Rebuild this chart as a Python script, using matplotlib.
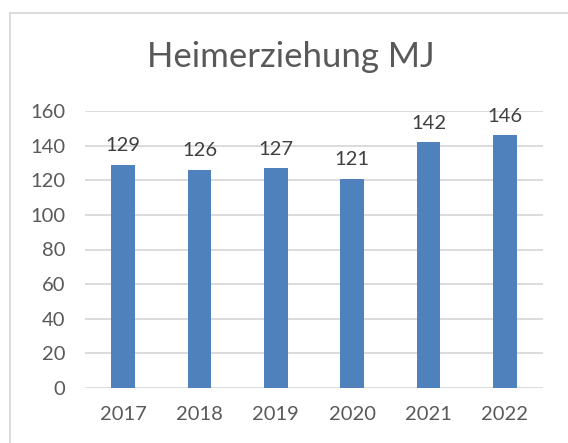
import matplotlib.pyplot as plt
from matplotlib.lines import Line2D

jahre = ['2017', '2018', '2019', '2020', '2021', '2022']
werte = [129, 126, 127, 121, 142, 146]
titel = 'Heimerziehung MJ'

plt.rcParams['font.family'] = ['Lato', 'DejaVu Sans']

fig = plt.figure(figsize=(5.68, 4.43), dpi=100)
ax = fig.add_axes([85/568, 1-388/443, (543-85)/568, (388-111)/443])

x = range(len(jahre))
balken = ax.bar(x, werte, width=0.31, color='#4F81BD', zorder=3)
for xi, w in zip(x, werte):
    ax.text(xi, w + 6, str(w), ha='center', va='bottom', fontsize=14.5, color='#404040')

ax.set_xlim(-0.5, len(jahre) - 0.5)
ax.set_ylim(0, 160)
ax.set_yticks(range(0, 161, 20))
ax.set_xticks(list(x))
ax.set_xticklabels(jahre)
ax.grid(axis='y', color='#D9D9D9', linewidth=1.3, zorder=0)
ax.tick_params(length=0, labelsize=14.5, labelcolor='#595959')
ax.tick_params(axis='y', pad=14)
ax.tick_params(axis='x', pad=13)
for s in ax.spines.values():
    s.set_visible(False)

fig.text(291/568, 1-57/443, titel, ha='center', va='center', fontsize=25, color='#595959')

# Rahmen (nur oben und links sichtbar)
fig.add_artist(Line2D([9.5/568, 1], [1-12.5/443, 1-12.5/443], color='#D9D9D9', linewidth=1.3))
fig.add_artist(Line2D([9.5/568, 9.5/568], [0, 1-12.5/443], color='#D9D9D9', linewidth=1.3))

plt.savefig('out.png', dpi=100)
